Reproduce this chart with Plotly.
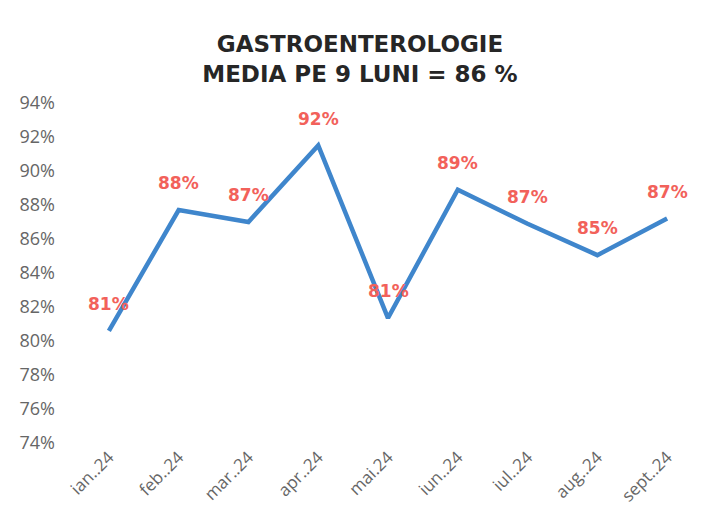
import plotly.graph_objects as go

months = ["ian..24", "feb..24", "mar..24", "apr..24", "mai.24", "iun..24", "iul..24", "aug..24", "sept..24"]
values = [80.6, 87.7, 87.0, 91.5, 81.35, 88.9, 86.9, 85.05, 87.2]
labels = [f"{round(v)}%" for v in values]
yticks = list(range(74, 95, 2))
ytick_text = [f"{t}%" for t in yticks]

fig = go.Figure()
fig.add_trace(go.Scatter(
    x=list(range(len(months))), y=values, mode="lines",
    line=dict(color="#3f86cc", width=4.5), hoverinfo="skip", showlegend=False,
))
for i, (v, lab) in enumerate(zip(values, labels)):
    fig.add_annotation(x=i, y=v, text=f"<b>{lab}</b>", showarrow=False, yshift=27,
                       font=dict(family="DejaVu Sans, sans-serif", size=17, color="#f2615a"))

fig.update_layout(
    width=703, height=522,
    margin=dict(l=74, r=1, t=103, b=79, autoexpand=False),
    paper_bgcolor="white", plot_bgcolor="white",
    title=dict(text="<b>GASTROENTEROLOGIE<br>MEDIA PE 9 LUNI = 86 %</b>",
               x=0.512, xanchor="center", y=0.9, yanchor="top",
               font=dict(family="DejaVu Sans, sans-serif", size=23, color="#262626")),
    xaxis=dict(range=[-0.5, 8.5], tickmode="array", tickvals=list(range(len(months))), ticktext=months,
               tickangle=-45, showgrid=False, zeroline=False, showline=False, ticks="", automargin=False,
               tickfont=dict(family="Open Sans, Liberation Sans, sans-serif", size=17, color="#666666")),
    yaxis=dict(range=[74, 94], tickmode="array", tickvals=yticks, ticktext=ytick_text, automargin=False,
               showgrid=False, zeroline=False, showline=False, ticks="", ticklabelstandoff=18,
               tickfont=dict(family="Open Sans, Liberation Sans, sans-serif", size=18, color="#666666")),
)
fig.write_html("out.html", post_script="document.body.style.margin='0';",
               config={"displayModeBar": False})
